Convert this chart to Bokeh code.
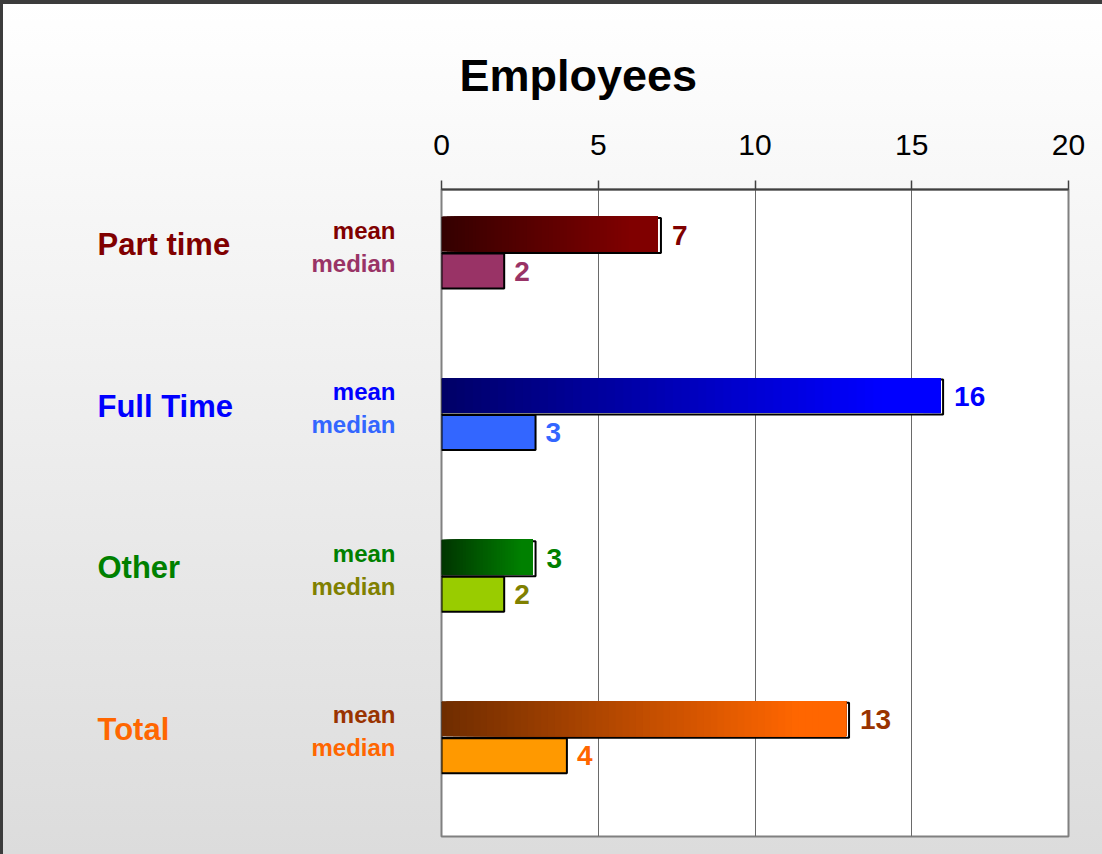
import numpy as np
from bokeh.plotting import figure
from bokeh.layouts import row
from bokeh.models import ColumnDataSource, LabelSet, Range1d, FixedTicker
from bokeh.core.properties import value
from bokeh.embed import file_html
from bokeh.resources import INLINE

# ---------------- data ----------------
groups = ["Part time", "Full Time", "Other", "Total"]
mean_values = [7, 16, 3, 13]
median_values = [2, 3, 2, 4]
x_ticks = [0, 5, 10, 15, 20]
title_text = "Employees"

# ---------------- styles ----------------
group_colors = ["#800000", "#0000ff", "#008000", "#ff6600"]
mean_text_colors = ["#800000", "#0000ff", "#008000", "#993300"]
median_text_colors = ["#993366", "#3366ff", "#808000", "#ff6600"]
median_fill = ["#993366", "#3366ff", "#99cc00", "#ff9900"]
mean_dark = ["#330000", "#000066", "#003300", "#6e2c00"]
mean_bright = ["#800000", "#0000ff", "#008000", "#ff6600"]
FONT = "Liberation Sans"
BG = "linear-gradient(to bottom, #ffffff 0%, #dcdcdc 100%)"

# ---------------- layout ----------------
W, H = 1102, 854
FL, FR, FT, FB = 441, 1068, 189, 836
LW = 416                         # width of the left label panel
XMAX = 20
PXX = (FR - FL) / XMAX          # px per x unit
GPX = 161.6                      # px per group slot
Y0 = 252                         # px of first group's center
y_top = (FT - Y0) / GPX
y_bot = (FB - Y0) / GPX
SUB = 18.5 / GPX                 # half distance mean/median
BH = 35 / GPX                    # bar height


def px_y(p):
    return p / GPX


def hex2rgb(h):
    h = h.lstrip("#")
    return np.array([int(h[i:i + 2], 16) for i in (0, 2, 4)], dtype=float)


def rgb2hex(c):
    return "#%02x%02x%02x" % tuple(int(round(v)) for v in c)


yr = Range1d(y_bot, y_top)

# ---------- left panel: category labels ----------
pl = figure(width=LW, height=H, x_range=Range1d(0, LW), y_range=yr,
            x_axis_location=None, y_axis_location=None,
            output_backend="svg", toolbar_location=None,
            min_border_left=0, min_border_right=0,
            min_border_top=FT, min_border_bottom=H - FB,
            outline_line_color=None)
pl.grid.visible = False
pl.background_fill_color = None
pl.border_fill_color = None
pl.styles = {"background": BG, "box-shadow": "inset 3px 4px 0 0 #3c3c3c"}

# ---------- main chart ----------
p = figure(width=W - LW, height=H,
           x_range=Range1d(0, XMAX), y_range=yr,
           x_axis_location="above", y_axis_location=None,
           output_backend="svg", toolbar_location=None,
           min_border_left=FL - LW, min_border_right=W - FR,
           min_border_top=FT, min_border_bottom=H - FB,
           background_fill_color="white",
           outline_line_color="#808080", outline_line_width=2)
p.border_fill_color = None
p.styles = {"background": BG, "box-shadow": "inset 0 4px 0 0 #3c3c3c"}

p.title.text = title_text
p.title.align = "left"
p.title.offset = 18
p.title.standoff = 61
p.title.text_font = FONT
p.title.text_font_size = "45px"
p.title.text_font_style = "bold"
p.title.text_color = "black"

# grid / axis
p.ygrid.visible = False
p.xgrid.ticker = FixedTicker(ticks=x_ticks)
p.xgrid.grid_line_color = "#6a6a6a"
p.xgrid.grid_line_width = 1
ax = p.xaxis[0]
ax.ticker = FixedTicker(ticks=x_ticks)
ax.axis_line_color = "#404040"
ax.axis_line_width = 2
ax.major_tick_line_color = "#404040"
ax.major_tick_line_width = 1.5
ax.major_tick_out = 9
ax.major_tick_in = 0
ax.minor_tick_out = 0
ax.minor_tick_in = 0
ax.major_label_text_font = FONT
ax.major_label_text_font_size = "30px"
ax.major_label_text_color = "black"
ax.major_label_standoff = 26

idx = np.arange(len(groups), dtype=float)
y_mean = idx - SUB
y_median = idx + SUB

# mean bars: shadow outline behind
shadow = ColumnDataSource(dict(y=y_mean + px_y(1.5), right=mean_values))
p.hbar(y="y", left=0, right="right", height=BH, source=shadow,
       fill_color="white", line_color="black", line_width=2)

# mean bars: horizontal gradient made of stacked slices
N = 60
ys, ls, rs, cs = [], [], [], []
for i, v in enumerate(mean_values):
    x0 = -2 / PXX
    x1 = v - 3 / PXX
    edges = np.linspace(x0, x1, N + 1)
    d, b = hex2rgb(mean_dark[i]), hex2rgb(mean_bright[i])
    for k in range(N):
        t = (k + 0.5) / N
        f = min(1.0, t / 0.88)
        ys.append(y_mean[i])
        ls.append(edges[k])
        rs.append(x1)
        cs.append(rgb2hex(d + (b - d) * f))
grad = ColumnDataSource(dict(y=ys, left=ls, right=rs, color=cs))
p.hbar(y="y", left="left", right="right", height=BH, source=grad,
       fill_color="color", line_color=None)

# median bars
med = ColumnDataSource(dict(y=y_median, right=median_values, color=median_fill))
p.hbar(y="y", left=0, right="right", height=BH, source=med,
       fill_color="color", line_color="black", line_width=2)

# value labels
mean_lab = ColumnDataSource(dict(x=mean_values, y=y_mean + px_y(1),
                                 text=[str(v) for v in mean_values], color=mean_text_colors))
p.add_layout(LabelSet(x="x", y="y", text="text", source=mean_lab, x_offset=11,
                      text_color="color", text_font=value(FONT), text_font_size=value("28px"),
                      text_font_style="bold", text_baseline="middle", text_align="left"))
med_lab = ColumnDataSource(dict(x=median_values, y=y_median,
                                text=[str(v) for v in median_values], color=median_text_colors))
p.add_layout(LabelSet(x="x", y="y", text="text", source=med_lab, x_offset=10,
                      text_color="color", text_font=value(FONT), text_font_size=value("28px"),
                      text_font_style="bold", text_baseline="middle", text_align="left"))

# "mean" / "median" labels (left panel)
n = len(groups)
mm = ColumnDataSource(dict(y=list(y_mean - px_y(4)) + list(y_median - px_y(8)),
                           text=["mean"] * n + ["median"] * n,
                           color=mean_text_colors + median_text_colors))
pl.text(x=395, y="y", text="text", source=mm, text_color="color",
        text_font=value(FONT), text_font_size=value("24px"), text_font_style="bold",
        text_baseline="middle", text_align="right")

# group labels (left panel)
gl = ColumnDataSource(dict(y=idx - px_y(8), text=groups, color=group_colors))
pl.text(x=97, y="y", text="text", source=gl, text_color="color",
        text_font=value(FONT), text_font_size=value("31px"), text_font_style="bold",
        text_baseline="middle", text_align="left")

layout = row(pl, p)
open("out.html", "w").write(file_html(layout, INLINE))
